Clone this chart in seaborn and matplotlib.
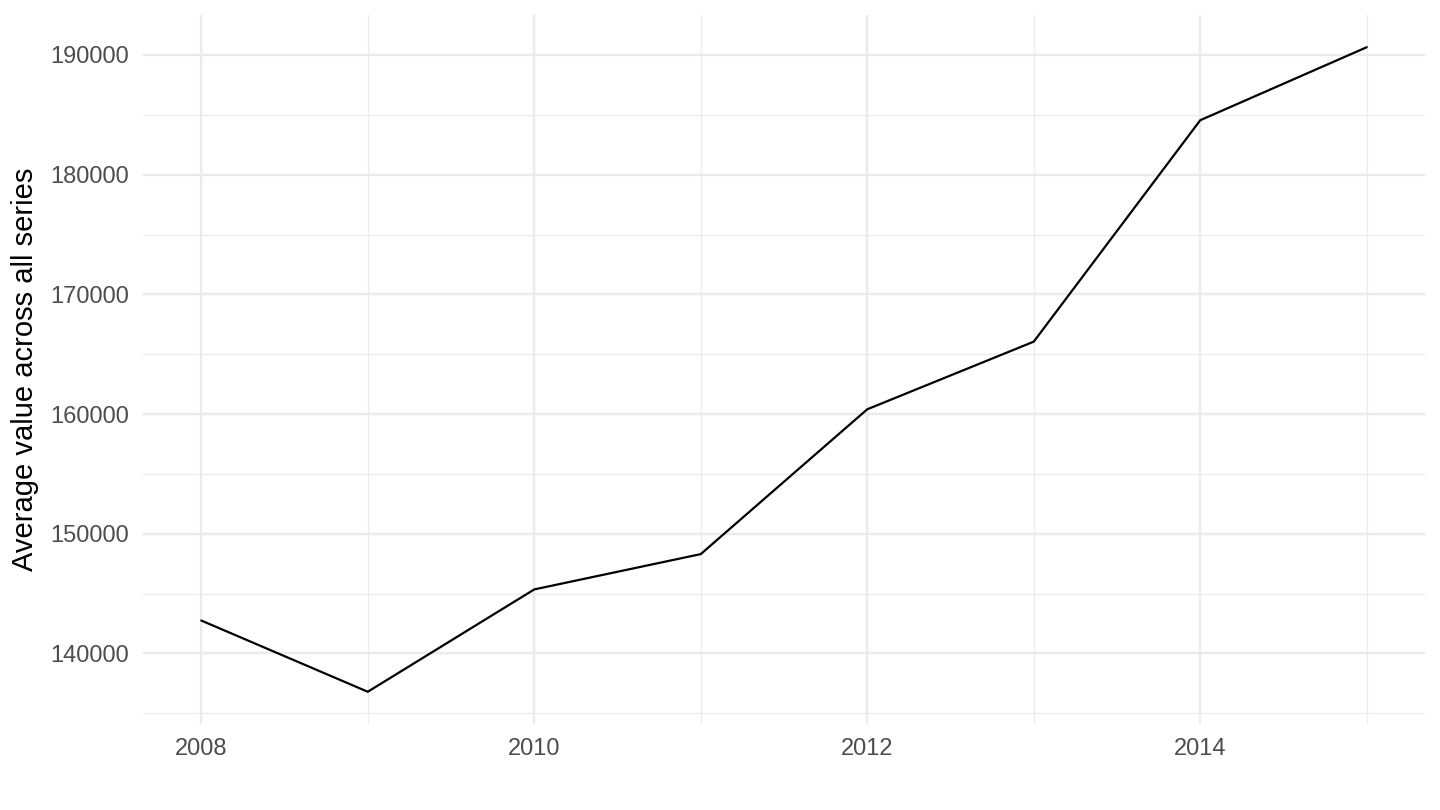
import numpy as np
import pandas as pd
import matplotlib
matplotlib.use("Agg")
import matplotlib.pyplot as plt
import seaborn as sns
from matplotlib.ticker import MultipleLocator

# Dados
anos = [2008, 2009, 2010, 2011, 2012, 2013, 2014, 2015]
media = [142750, 136800, 145350, 148300, 160400, 166050, 184550, 190650]

df = pd.DataFrame({"ano": anos, "media": media})

sns.set_theme(style="white")
plt.rcParams['font.family'] = ['Liberation Sans', 'DejaVu Sans']

fig = plt.figure(figsize=(14.4, 8.1), dpi=100)
ax = fig.add_axes([0.0993, 0.1062, 0.8903, 0.8753])

sns.lineplot(data=df, x="ano", y="media", color="black", linewidth=1.6, ax=ax)

# Escalas com expansão de 5% (estilo ggplot)
xr = max(anos) - min(anos)
ax.set_xlim(min(anos) - 0.05 * xr, max(anos) + 0.05 * xr)
yr = max(media) - min(media)
ax.set_ylim(min(media) - 0.05 * yr, max(media) + 0.05 * yr)

ax.xaxis.set_major_locator(MultipleLocator(2))
ax.xaxis.set_minor_locator(MultipleLocator(1))
ax.yaxis.set_major_locator(MultipleLocator(10000))
ax.yaxis.set_minor_locator(MultipleLocator(5000))
ax.yaxis.set_major_formatter(matplotlib.ticker.FuncFormatter(lambda v, p: f"{int(v)}"))

ax.grid(which="major", color="#EBEBEB", linewidth=1.7)
ax.grid(which="minor", color="#EBEBEB", linewidth=0.9)
ax.set_axisbelow(True)
for s in ax.spines.values():
    s.set_visible(False)

ax.tick_params(which="both", length=0, labelsize=17, labelcolor="#4D4D4D")
ax.tick_params(axis="x", pad=10)
ax.tick_params(axis="y", pad=10)
ax.set_xlabel("")
ax.set_ylabel("Average value across all series", fontsize=21, color="black", labelpad=8)

fig.savefig("out.png", dpi=100)
